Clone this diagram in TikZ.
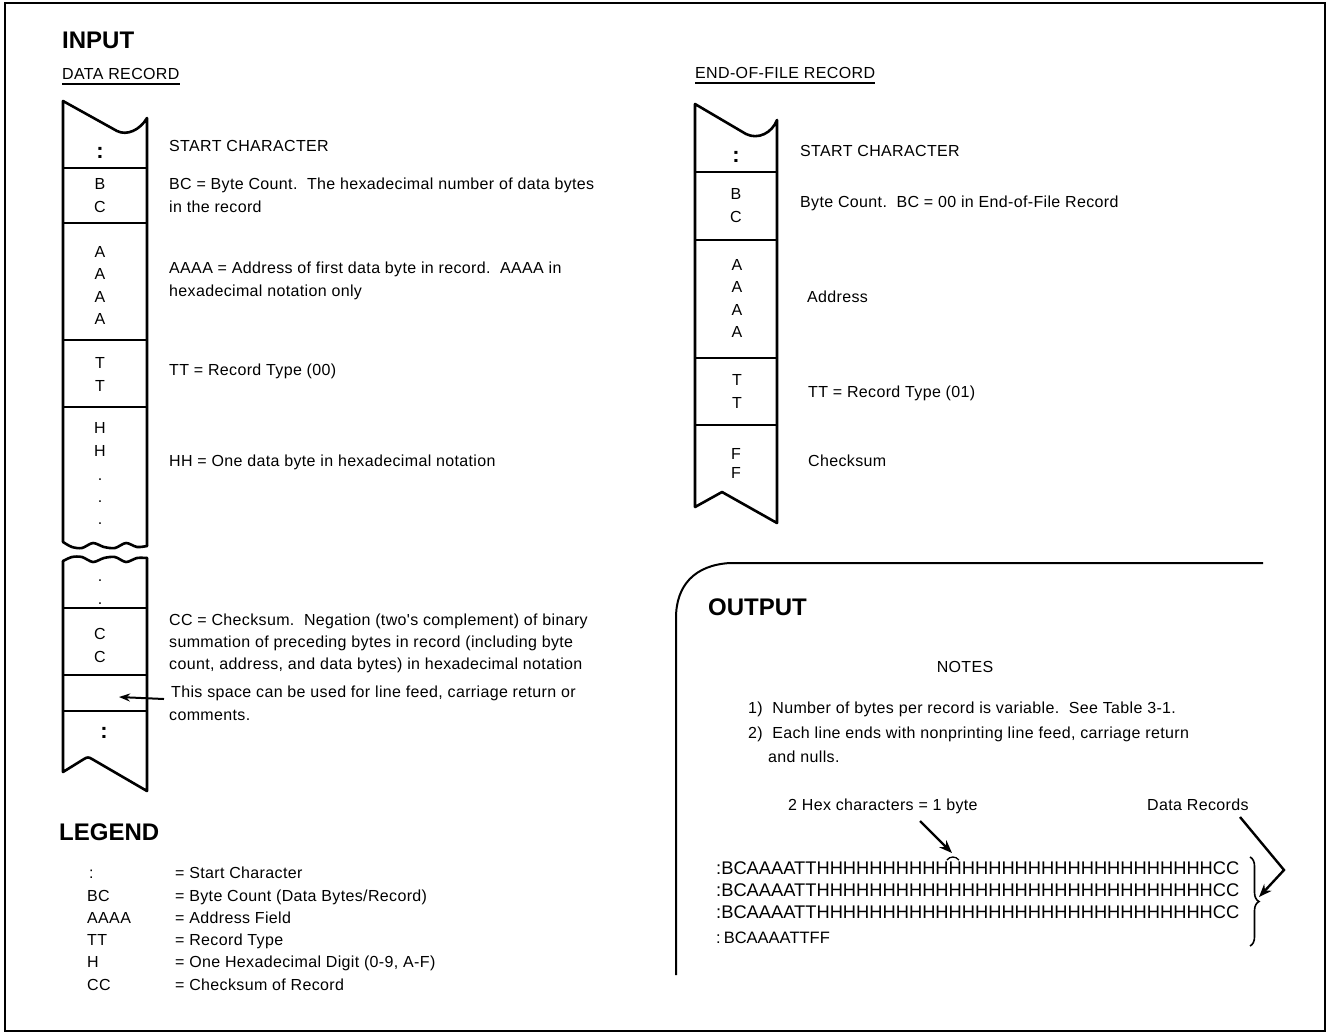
\documentclass[tikz,border=0pt]{standalone}
\usepackage{fontspec}
\setmainfont{Liberation Sans}
\newfontfamily\spacedfont[LetterSpace=2.2]{Liberation Sans}
\usetikzlibrary{decorations.pathreplacing,arrows.meta}
\begin{document}
\begin{tikzpicture}[x=1pt,y=-1pt,
  txt/.style={anchor=base west,inner sep=0pt,font=\spacedfont\fontsize{16}{20}\selectfont},
  head/.style={anchor=base west,inner sep=0pt,font=\fontsize{24}{28}\selectfont\bfseries},
  tl/.style={anchor=base,inner sep=0pt,font=\fontsize{16}{20}\selectfont},
  colon/.style={anchor=base,inner sep=0pt,font=\fontsize{22}{24}\selectfont\bfseries},
  tape/.style={line width=2.6pt,line join=round,line cap=round},
  sep/.style={line width=2.2pt},
  dat/.style={anchor=base west,inner sep=0pt,font=\fontsize{18.3}{22}\selectfont},
  arr/.style={line width=2.4pt,-{Stealth[length=13pt,width=10pt]}},
  frame/.style={line width=2pt}]
\useasboundingbox (0,0) rectangle (1329,1034);
\draw[frame] (5,3) rectangle (1325,1031);

% ---------------- INPUT headings
\node[head] (input) at (62,48.5) {INPUT};
\node[txt] (datarec) at (62,79) {DATA RECORD};
\draw[line width=1.2pt] (62,84) -- (datarec.east |- 0,84);
\node[txt] (eofrec) at (695,78) {END-OF-FILE RECORD};
\draw[line width=1.2pt] (695,83) -- (eofrec.east |- 0,83);

% ---------------- left tape, piece 1
\draw[tape] (63,542) -- (63,101) -- (117,131) .. controls (127,136) and (140,130) .. (147,118) -- (147,546);
\draw[tape] plot[smooth] coordinates {(63,542) (72,547) (82,548) (93,543) (104,547) (115,548) (126,543) (137,547) (147,546)};
\foreach \yy in {168,223,340,407} \draw[sep] (63,\yy) -- (147,\yy);
% left tape, piece 2
\draw[tape] plot[smooth] coordinates {(63,561) (72,557) (82,557) (93,562) (104,558) (115,557) (126,562) (137,558) (147,558)};
\draw[tape] (63,561) -- (63,772) -- (84,759) .. controls (87,757) and (89,757) .. (92,759) -- (147,791) -- (147,558);
\foreach \yy in {608,675,711} \draw[sep] (63,\yy) -- (147,\yy);

% left tape letters
\node[colon] (lc1) at (100,158) {:};
\node[tl] (lb) at (100,189) {B};
\node[tl] (lc) at (100,212) {C};
\node[tl] (la1) at (100,257) {A};
\node[tl] (la2) at (100,279) {A};
\node[tl] (la3) at (100,302) {A};
\node[tl] (la4) at (100,324) {A};
\node[tl] (lt1) at (100,368) {T};
\node[tl] (lt2) at (100,391) {T};
\node[tl] (lh1) at (100,433) {H};
\node[tl] (lh2) at (100,456) {H};
\node[tl] (ld1) at (100,480) {.};
\node[tl] (ld2) at (100,502) {.};
\node[tl] (ld3) at (100,524) {.};
\node[tl] (ld4) at (100,581) {.};
\node[tl] (ld5) at (100,604) {.};
\node[tl] (lcc1) at (100,639) {C};
\node[tl] (lcc2) at (100,662) {C};
\node[colon] (lc2) at (104,738) {:};

% left descriptions
\node[txt] (d1) at (169,151) {START CHARACTER};
\node[txt] (d2) at (169,189) {BC = Byte Count.\ \ The hexadecimal number of data bytes};
\node[txt] (d2b) at (169,212) {in the record};
\node[txt] (d3) at (169,273) {AAAA = Address of first data byte in record.\ \ AAAA in};
\node[txt] (d3b) at (169,296) {hexadecimal notation only};
\node[txt] (d4) at (169,375) {TT = Record Type (00)};
\node[txt] (d5) at (169,466) {HH = One data byte in hexadecimal notation};
\node[txt] (d6) at (169,625) {CC = Checksum.\ \ Negation (two's complement) of binary};
\node[txt] (d6b) at (169,647) {summation of preceding bytes in record (including byte};
\node[txt] (d6c) at (169,669) {count, address, and data bytes) in hexadecimal notation};
\node[txt] (d7) at (171,697) {This space can be used for line feed, carriage return or};
\node[txt] (d7b) at (169,720) {comments.};
\coordinate (spc) at (119,697);
\draw[line width=2pt,-{Stealth[length=11pt,width=8pt]}] (d7.west |- 0,699) ++(-7,0) -- (spc);

% ---------------- legend
\node[head] (legend) at (59,840.5) {LEGEND};
\node[txt] (k1) at (89,878) {:};
\node[txt] (k2) at (87,901) {BC};
\node[txt] (k3) at (87,923) {AAAA};
\node[txt] (k4) at (87,945) {TT};
\node[txt] (k5) at (87,967) {H};
\node[txt] (k6) at (87,990) {CC};
\node[txt] (v1) at (175,878) {= Start Character};
\node[txt] (v2) at (175,901) {= Byte Count (Data Bytes/Record)};
\node[txt] (v3) at (175,923) {= Address Field};
\node[txt] (v4) at (175,945) {= Record Type};
\node[txt] (v5) at (175,967) {= One Hexadecimal Digit (0-9, A-F)};
\node[txt] (v6) at (175,990) {= Checksum of Record};

% ---------------- right tape
\draw[tape] (695,507) -- (695,104) -- (746,134) .. controls (758,140) and (772,133) .. (777,120) -- (777,523) -- (722,492) -- (695,507);
\foreach \yy in {172,240,358,425} \draw[sep] (695,\yy) -- (777,\yy);
\node[colon] (rc1) at (736,162) {:};
\node[tl] (rb) at (736,199) {B};
\node[tl] (rc) at (736,222) {C};
\node[tl] (ra1) at (737,270) {A};
\node[tl] (ra2) at (737,292) {A};
\node[tl] (ra3) at (737,315) {A};
\node[tl] (ra4) at (737,337) {A};
\node[tl] (rt1) at (737,385) {T};
\node[tl] (rt2) at (737,408) {T};
\node[tl] (rf1) at (736,459) {F};
\node[tl] (rf2) at (736,478) {F};

\node[txt] (e1) at (800,156) {START CHARACTER};
\node[txt] (e2) at (800,207) {Byte Count.\ \ BC = 00 in End-of-File Record};
\node[txt] (e3) at (807,302) {Address};
\node[txt] (e4) at (808,397) {TT = Record Type (01)};
\node[txt] (e5) at (808,466) {Checksum};

% ---------------- output
\draw[frame] (676,975) -- (676,618) .. controls (676,585) and (695,565) .. (730,563) -- (1263,563);
\node[head] (output) at (708,615.5) {OUTPUT};
\node[tl,font=\spacedfont\fontsize{16}{20}\selectfont] (notes) at (965,672) {NOTES};
\node[txt] (n1) at (748,713) {1)\ \ Number of bytes per record is variable.\ \ See Table 3-1.};
\node[txt] (n2) at (748,738) {2)\ \ Each line ends with nonprinting line feed, carriage return};
\node[txt] (n2b) at (768,762) {and nulls.};
\node[txt] (hex) at (788,810) {2 Hex characters = 1 byte};
\node[txt] (drs) at (1147,810) {Data Records};

\node[dat] (l1) at (716,874.5) {:BCAAAATTHHHHHHHHHHHHHHHHHHHHHHHHHHHHHHCC};
\node[dat] (l2) at (716,896.5) {:BCAAAATTHHHHHHHHHHHHHHHHHHHHHHHHHHHHHHCC};
\node[dat] (l3) at (716,918.5) {:BCAAAATTHHHHHHHHHHHHHHHHHHHHHHHHHHHHHHCC};
\node[dat,font=\fontsize{16.5}{20}\selectfont] (l4) at (716,943) {:\kern3pt BCAAAATTFF};
\node[dat] (pre) at (716,874.5) {\phantom{:BCAAAATTHHHHHHHHHH}};
\coordinate (hat) at ([xshift=4pt]pre.east |- 0,858);
\draw[line width=1.3pt] ([xshift=-6pt,yshift=-2pt]hat) .. controls ([xshift=-3pt,yshift=2pt]hat) and ([xshift=3pt,yshift=2pt]hat) .. ([xshift=6pt,yshift=-2pt]hat);
\coordinate (hexend) at (952,853);
\draw[arr] (920,821) -- (hexend);

\draw[line width=1.6pt,decorate,decoration={brace,amplitude=9pt}] (1250,857) -- (1250,946);
\coordinate (bend) at (1284,870);
\coordinate (braceTip) at (1259,897);
\draw[arr,line join=miter] (1240,817) -- (bend) -- (braceTip);
\end{tikzpicture}
\end{document}
